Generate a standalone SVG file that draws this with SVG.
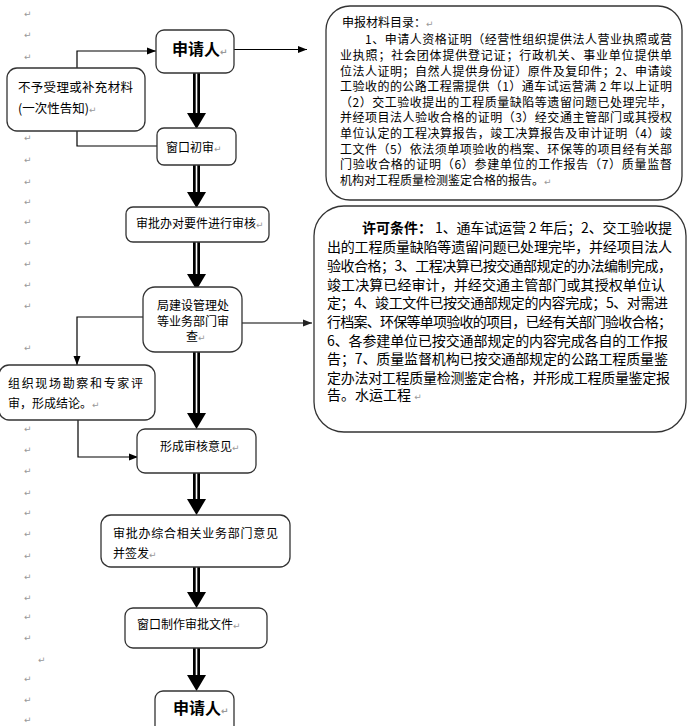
<svg xmlns="http://www.w3.org/2000/svg" width="688" height="726" viewBox="0 0 688 726">
<style>
.box{fill:#fff;stroke:#333;stroke-width:1.3}
.t{font-family:"Noto Sans CJK SC","Noto Sans",sans-serif;font-size:12px;fill:#000}
.b{font-weight:bold}
.pm{font-family:"DejaVu Sans",sans-serif;font-size:9px;fill:#999}
.ln{fill:none;stroke:#000;stroke-width:1.2}
.sh{fill:#000}
.gap{fill:#fff}
</style>
<defs>
<marker id="ah" markerWidth="9" markerHeight="8" refX="9" refY="4" orient="auto" markerUnits="userSpaceOnUse"><path d="M0,0.5 L9,4 L0,7.5 z" fill="#000"/></marker>
<marker id="ahg" markerWidth="9" markerHeight="8" refX="9" refY="4" orient="auto" markerUnits="userSpaceOnUse"><path d="M0,0.5 L9,4 L0,7.5 z" fill="#222"/></marker>
</defs>
<rect width="688" height="726" fill="#fff"/>

<g id="marks">
<text class="pm" x="24" y="17">↵</text>
<text class="pm" x="24" y="38">↵</text>
<text class="pm" x="24" y="60">↵</text>
<text class="pm" x="24" y="141">↵</text>
<text class="pm" x="24" y="163">↵</text>
<text class="pm" x="24" y="185">↵</text>
<text class="pm" x="24" y="205">↵</text>
<text class="pm" x="24" y="225">↵</text>
<text class="pm" x="24" y="246">↵</text>
<text class="pm" x="24" y="267">↵</text>
<text class="pm" x="24" y="288">↵</text>
<text class="pm" x="24" y="309">↵</text>
<text class="pm" x="24" y="351">↵</text>
<text class="pm" x="24" y="432">↵</text>
<text class="pm" x="24" y="453">↵</text>
<text class="pm" x="24" y="474">↵</text>
<text class="pm" x="24" y="496">↵</text>
<text class="pm" x="24" y="516">↵</text>
<text class="pm" x="24" y="537">↵</text>
<text class="pm" x="24" y="559">↵</text>
<text class="pm" x="24" y="580">↵</text>
<text class="pm" x="24" y="601">↵</text>
<text class="pm" x="24" y="620">↵</text>
<text class="pm" x="24" y="641">↵</text>
<text class="pm" x="38" y="663">↵</text>
<text class="pm" x="24" y="682">↵</text>
<text class="pm" x="24" y="703">↵</text>
<text class="pm" x="24" y="723">↵</text>
</g>

<g id="connectors">
<path class="ln" d="M77,68 V51 H156" marker-end="url(#ah)"/>
<path class="ln" d="M234,49.5 H307" marker-end="url(#ah)"/>
<path class="ln" d="M157,146 H77 V131"/>
<path class="ln" d="M143,317 H77 V365" marker-end="url(#ah)"/>
<path class="ln" d="M242,323 H312" stroke="#444" marker-end="url(#ahg)"/>
<path class="ln" d="M78,420 V457 H138" marker-end="url(#ah)"/>

<rect class="sh" x="193" y="73" width="7" height="42"/><rect class="gap" x="195.7" y="73" width="1.6" height="41"/><path class="sh" d="M187,113 H206 L196.5,129 z"/>
<rect class="sh" x="193" y="165" width="7" height="28"/><rect class="gap" x="195.7" y="165" width="1.6" height="27"/><path class="sh" d="M187,192 H206 L196.5,208 z"/>
<rect class="sh" x="193" y="242" width="7" height="33"/><rect class="gap" x="195.7" y="242" width="1.6" height="32"/><path class="sh" d="M187,274 H206 L196.5,290 z"/>
<rect class="sh" x="193" y="352" width="7" height="62"/><rect class="gap" x="195.7" y="352" width="1.6" height="61"/><path class="sh" d="M187,413 H206 L196.5,429 z"/>
<rect class="sh" x="193" y="473" width="7" height="27"/><rect class="gap" x="195.7" y="473" width="1.6" height="26"/><path class="sh" d="M187,499 H206 L196.5,515 z"/>
<rect class="sh" x="193" y="567" width="7" height="26"/><rect class="gap" x="195.7" y="567" width="1.6" height="25"/><path class="sh" d="M187,592 H206 L196.5,608 z"/>
<rect class="sh" x="193" y="648" width="7" height="28"/><rect class="gap" x="195.7" y="648" width="1.6" height="27"/><path class="sh" d="M187,675 H206 L196.5,691 z"/>
</g>

<g id="applicant-top">
<rect class="box" x="156" y="30" width="78" height="43" rx="8"/>
<text class="t b" x="172" y="55" style="font-size:16px">申请人<tspan class="pm">↵</tspan></text>
</g>

<g id="reject">
<rect class="box" x="7" y="68" width="138" height="63" rx="10"/>
<text class="t" x="18" y="92" textLength="115" lengthAdjust="spacing" style="font-size:12.5px">不予受理或补充材料</text>
<text class="t" x="18" y="113" style="font-size:12.5px">(一次性告知)<tspan class="pm">↵</tspan></text>
</g>

<g id="window-check">
<rect class="box" x="157" y="128" width="79" height="37" rx="7"/>
<text class="t" x="166" y="152">窗口初审<tspan class="pm">↵</tspan></text>
</g>

<g id="review-docs">
<rect class="box" x="126" y="207" width="143" height="35" rx="7"/>
<text class="t" x="136" y="228">审批办对要件进行审核<tspan class="pm">↵</tspan></text>
</g>

<g id="dept-review">
<rect class="box" x="143" y="287" width="99" height="65" rx="12"/>
<text class="t" x="193" y="310" text-anchor="middle">局建设管理处</text>
<text class="t" x="193" y="325.5" text-anchor="middle">等业务部门审</text>
<text class="t" x="186" y="341">查<tspan class="pm">↵</tspan></text>
</g>

<g id="site-survey">
<rect class="box" x="-1" y="365" width="156" height="55" rx="10"/>
<text class="t" x="8" y="388" textLength="135" lengthAdjust="spacing">组织现场勘察和专家评</text>
<text class="t" x="8" y="407.5">审，形成结论。<tspan class="pm">↵</tspan></text>
</g>

<g id="opinion">
<rect class="box" x="137" y="429" width="119" height="44" rx="8"/>
<text class="t" x="160" y="451">形成审核意见<tspan class="pm">↵</tspan></text>
</g>

<g id="sign">
<rect class="box" x="101" y="515" width="189" height="52" rx="10"/>
<text class="t" x="113" y="537.5" textLength="165" lengthAdjust="spacing">审批办综合相关业务部门意见</text>
<text class="t" x="113" y="557.5">并签发<tspan class="pm">↵</tspan></text>
</g>

<g id="make-doc">
<rect class="box" x="125" y="608" width="142" height="40" rx="8"/>
<text class="t" x="137" y="629">窗口制作审批文件<tspan class="pm">↵</tspan></text>
</g>

<g id="applicant-bottom">
<rect class="box" x="155" y="691" width="79" height="50" rx="8"/>
<text class="t b" x="173" y="714" style="font-size:16px">申请人<tspan class="pm">↵</tspan></text>
</g>

<g id="materials">
<rect class="box" x="326" y="6" width="356" height="194" rx="24"/>
<g class="t" style="font-size:12px">
<text x="342" y="27">申报材料目录：<tspan class="pm">↵</tspan></text>
<text x="365" y="44" textLength="307" lengthAdjust="spacing">1、申请人资格证明（经营性组织提供法人营业执照或营</text>
<text x="340" y="60" textLength="332" lengthAdjust="spacing">业执照；社会团体提供登记证；行政机关、事业单位提供单</text>
<text x="340" y="76" textLength="332" lengthAdjust="spacing">位法人证明；自然人提供身份证）原件及复印件；2、申请竣</text>
<text x="340" y="91" textLength="332" lengthAdjust="spacing">工验收的的公路工程需提供（1）通车试运营满 2 年以上证明</text>
<text x="340" y="107" textLength="332" lengthAdjust="spacing">（2）交工验收提出的工程质量缺陷等遗留问题已处理完毕，</text>
<text x="340" y="122" textLength="332" lengthAdjust="spacing">并经项目法人验收合格的证明（3）经交通主管部门或其授权</text>
<text x="340" y="138" textLength="332" lengthAdjust="spacing">单位认定的工程决算报告，竣工决算报告及审计证明（4）竣</text>
<text x="340" y="154" textLength="332" lengthAdjust="spacing">工文件（5）依法须单项验收的档案、环保等的项目经有关部</text>
<text x="340" y="169" textLength="332" lengthAdjust="spacing">门验收合格的证明（6）参建单位的工作报告（7）质量监督</text>
<text x="340" y="185">机构对工程质量检测鉴定合格的报告。<tspan class="pm">↵</tspan></text>
</g>
</g>

<g id="conditions">
<rect class="box" x="314" y="206" width="372" height="226" rx="30"/>
<g class="t" style="font-size:14px">
<text class="b" x="362" y="233">许可条件：</text>
<text x="435" y="233" textLength="237" lengthAdjust="spacing">1、通车试运营 2 年后；2、交工验收提</text>
<text x="327" y="252" textLength="345" lengthAdjust="spacing">出的工程质量缺陷等遗留问题已处理完毕，并经项目法人</text>
<text x="327" y="271" textLength="345" lengthAdjust="spacing">验收合格；3、工程决算已按交通部规定的办法编制完成，</text>
<text x="327" y="290" textLength="338" lengthAdjust="spacing">竣工决算已经审计，并经交通主管部门或其授权单位认</text>
<text x="327" y="308" textLength="341" lengthAdjust="spacing">定；4、竣工文件已按交通部规定的内容完成；5、对需进</text>
<text x="327" y="327" textLength="345" lengthAdjust="spacing">行档案、环保等单项验收的项目，已经有关部门验收合格；</text>
<text x="327" y="346" textLength="341" lengthAdjust="spacing">6、各参建单位已按交通部规定的内容完成各自的工作报</text>
<text x="327" y="364" textLength="341" lengthAdjust="spacing">告；7、质量监督机构已按交通部规定的公路工程质量鉴</text>
<text x="327" y="383" textLength="343" lengthAdjust="spacing">定办法对工程质量检测鉴定合格，并形成工程质量鉴定报</text>
<text x="327" y="400">告。水运工程 <tspan class="pm">↵</tspan></text>
</g>
</g>
</svg>
